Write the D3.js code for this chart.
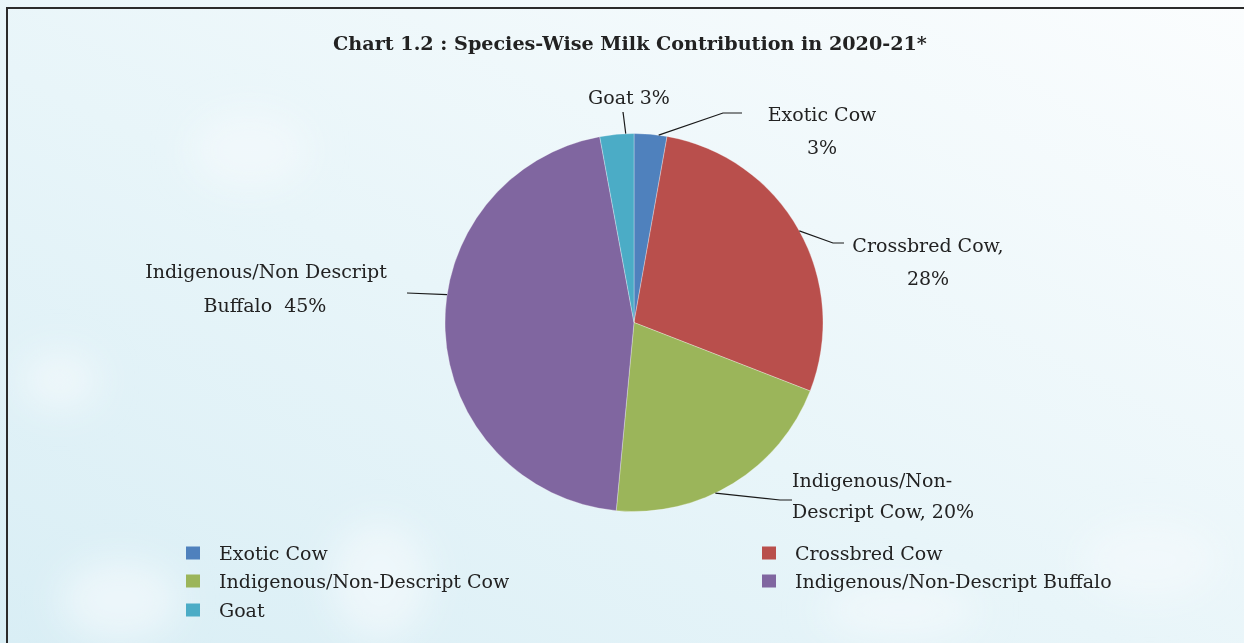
<!DOCTYPE html>
<html><head><meta charset="utf-8">
<script src="https://cdn.jsdelivr.net/npm/d3@7"></script>
<style>html,body{margin:0;padding:0;background:#fff;}svg{display:block;}</style>
</head><body>
<svg id="chart" width="1244" height="643"></svg>
<script>
// ---- data ----
const categories = ["Exotic Cow", "Crossbred Cow", "Indigenous/Non-Descript Cow", "Indigenous/Non-Descript Buffalo", "Goat"];
const values = [2.8, 28.1, 20.6, 45.6, 2.9];
const colors = ["#4f81bd", "#b94f4c", "#9bb55a", "#8066a0", "#4bacc6"];
const sliceLabels = [
  ["Exotic Cow", "3%"],
  ["Crossbred Cow,", "28%"],
  ["Indigenous/Non-", "Descript Cow, 20%"],
  ["Indigenous/Non Descript", "Buffalo  45%"],
  ["Goat 3%"]
];
const title = "Chart 1.2 : Species-Wise Milk Contribution in 2020-21*";

// ---- layout ----
const W = 1244, H = 643;
const cx = 634, cy = 322.5, R = 189;
const font = "'DejaVu Serif', 'Liberation Serif', serif";
const svg = d3.select("#chart");

const defs = svg.append("defs");
const g1 = defs.append("linearGradient").attr("id","bg").attr("x1","0").attr("y1","1").attr("x2","1").attr("y2","0");
g1.append("stop").attr("offset","0").attr("stop-color","#d9eef5");
g1.append("stop").attr("offset","0.45").attr("stop-color","#e8f5f9");
g1.append("stop").attr("offset","1").attr("stop-color","#fbfdfe");
svg.append("rect").attr("width",W).attr("height",H).attr("fill","url(#bg)");
const blur = defs.append("filter").attr("id","blur").attr("x","-50%").attr("y","-50%").attr("width","200%").attr("height","200%");
blur.append("feGaussianBlur").attr("stdDeviation", 18);
const blobs = [[120,600,60,40],[380,580,50,60],[60,380,40,30],[1150,560,70,40],[900,610,80,30],[250,150,60,40]];
svg.append("g").attr("filter","url(#blur)").selectAll("ellipse").data(blobs).join("ellipse")
  .attr("cx",d=>d[0]).attr("cy",d=>d[1]).attr("rx",d=>d[2]).attr("ry",d=>d[3])
  .attr("fill","#f3fafc").attr("opacity",0.7);

// border
svg.append("path").attr("d", `M7,${H+5} L7,8 L${W+5},8`).attr("fill","none").attr("stroke","#2b2b2b").attr("stroke-width",2);

// helper: fit text to a target width by adjusting font size
function fitText(sel, target){
  const n = sel.node();
  const w = n.getComputedTextLength();
  const fs = parseFloat(sel.attr("font-size"));
  if (w > 0) sel.attr("font-size", (fs*target/w).toFixed(2));
}

// title
const tt = svg.append("text").attr("x",630).attr("y",50).attr("text-anchor","middle")
  .attr("font-family",font).attr("font-weight","bold").attr("font-size",19).attr("fill","#222")
  .text(title);
fitText(tt, 594);

// pie
const pie = d3.pie().sort(null).value(d=>d)(values);
const arc = d3.arc().innerRadius(0).outerRadius(R);
const pg = svg.append("g").attr("transform",`translate(${cx},${cy})`);
pg.selectAll("path").data(pie).join("path")
  .attr("d",arc).attr("fill",(d,i)=>colors[i]).attr("stroke","#ffffff").attr("stroke-width",0.6).attr("stroke-opacity",0.5);

// leader lines & labels (annotation layout)
const leaders = [
  {ang: 7.5,  pts:[[723,113],[742,113]], lab:[[822,121],[822,154]]},
  {ang: 61,   pts:[[833,243],[844,243]], lab:[[928,252],[928,285]]},
  {ang: 154.5,pts:[[780,500],[792,500]], lab:[[872,487],[883,518]]},
  {ang: 278.5,pts:[[407,293]], lab:[[266,278],[265,312]]},
  {ang: 357.5,pts:[[623,112]], lab:[[629,104]]}
];
const labelSize = 19;
const lg = svg.append("g");
leaders.forEach((L,i)=>{
  const a = L.ang*Math.PI/180;
  const s = [cx + R*Math.sin(a), cy - R*Math.cos(a)];
  lg.append("path").attr("d", d3.line()([s, ...L.pts])).attr("fill","none").attr("stroke","#1a1a1a").attr("stroke-width",1.2);
  sliceLabels[i].forEach((t,j)=>{
    lg.append("text").attr("x",L.lab[j][0]).attr("y",L.lab[j][1]).attr("text-anchor","middle")
      .attr("font-family",font).attr("font-size",labelSize).attr("fill","#222").attr("xml:space","preserve").style("white-space","pre")
      .text(t);
  });
});

// legend
const legendPos = [[186,553],[762,553],[186,581],[762,581],[186,610]];
const leg = svg.append("g").selectAll("g").data(categories).join("g")
  .attr("transform",(d,i)=>`translate(${legendPos[i][0]},${legendPos[i][1]})`);
leg.append("rect").attr("x",0).attr("y",-6.5).attr("width",14).attr("height",13).attr("fill",(d,i)=>colors[i]);
leg.append("text").attr("x",33).attr("y",7).attr("font-family",font).attr("font-size",labelSize).attr("fill","#222").text(d=>d);
</script>
</body></html>
